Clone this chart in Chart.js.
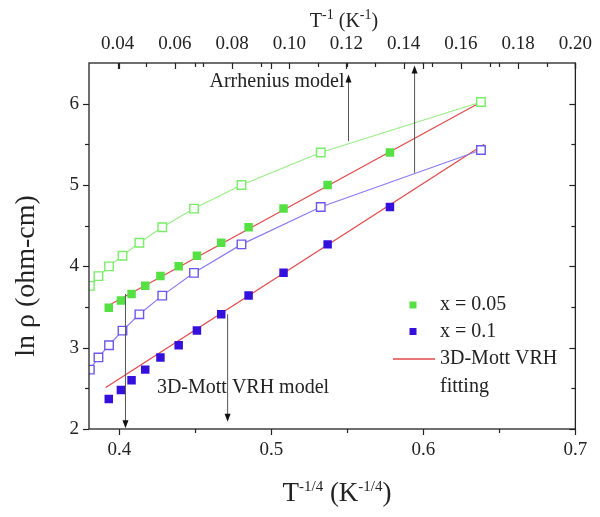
<!DOCTYPE html>
<html>
<head>
<meta charset="utf-8">
<script src="https://cdn.jsdelivr.net/npm/chart.js@4.4.0/dist/chart.umd.min.js"></script>
<style>
  html, body { margin: 0; padding: 0; background: #fff; }
</style>
</head>
<body>
<canvas id="chart" width="600" height="517"></canvas>
<script>
// ─── Data ───
// bottom axis: T^-1/4 (K^-1/4), filled squares
const tQuarter = [0.393, 0.401, 0.408, 0.417, 0.427, 0.439, 0.451, 0.467, 0.485, 0.508, 0.537, 0.578, 0.638];
const lnRho005 = [3.49, 3.58, 3.66, 3.76, 3.88, 4.00, 4.13, 4.29, 4.48, 4.71, 5.00, 5.40, 6.02];
const lnRho01  = [2.37, 2.48, 2.60, 2.73, 2.88, 3.03, 3.21, 3.41, 3.64, 3.92, 4.27, 4.73, 5.43];

// top axis: T^-1 (K^-1), open squares
const tInv     = [0.0303, 0.0333, 0.0370, 0.0417, 0.0476, 0.0556, 0.0667, 0.0833, 0.111, 0.167];
const open005  = [3.76, 3.88, 4.00, 4.13, 4.29, 4.48, 4.71, 5.00, 5.40, 6.02];
const open01   = [2.73, 2.88, 3.03, 3.21, 3.41, 3.64, 3.92, 4.27, 4.73, 5.43];

// 3D-Mott VRH fits (end points)
const fitX005 = [0.391, 0.638];
const fitY005 = [3.50, 6.02];
const fitX01  = [0.391, 0.640];
const fitY01  = [2.51, 5.50];

// ticks
const xTicks  = [0.4, 0.45, 0.5, 0.55, 0.6, 0.65, 0.7];
const x2Ticks = [0.04, 0.05, 0.06, 0.07, 0.08, 0.09, 0.10, 0.11, 0.12, 0.13, 0.14, 0.15, 0.16, 0.17, 0.18, 0.19, 0.20];
const yTicks  = [2, 2.5, 3, 3.5, 4, 4.5, 5, 5.5, 6];

// annotation arrows, in data units
const arrheniusArrows = [ { x: 0.1207, from: 5.54, to: 6.36 }, { x: 0.1438, from: 5.15, to: 6.47 } ];
const mottArrows      = [ { x: 0.404, from: 3.66, to: 2.01 }, { x: 0.4712, from: 3.41, to: 2.09 } ];

// ─── Styles ───
const SERIF = '"Liberation Serif", "DejaVu Serif", serif';
const INK = '#222';
const GREEN = '#55e044';
const GREEN_OPEN = '#77ee66';
const GREEN_LINE = '#99ee88';
const BLUE = '#3410dc';
const BLUE_OPEN = '#6a58ee';
const BLUE_LINE = '#8a7cf0';
const RED = '#e04848';

const pts = (xs, ys) => xs.map((x, i) => ({ x: x, y: ys[i] }));
const near = (v, step) => Math.abs(v / step - Math.round(v / step)) < 1e-6;

// ─── Drawing helpers ───
function line(ctx, x1, y1, x2, y2) {
    ctx.beginPath();
    ctx.moveTo(x1, y1);
    ctx.lineTo(x2, y2);
    ctx.stroke();
}

function arrow(ctx, x, y1, y2) {
    const dir = y2 < y1 ? -1 : 1;
    ctx.strokeStyle = '#555';
    ctx.fillStyle = '#111';
    ctx.lineWidth = 1;
    line(ctx, x, y1, x, y2 - dir * 6);
    ctx.beginPath();
    ctx.moveTo(x, y2);
    ctx.lineTo(x - 3, y2 - dir * 8);
    ctx.lineTo(x + 3, y2 - dir * 8);
    ctx.closePath();
    ctx.fill();
}

// text with superscripts: parts = [[text, isSup], ...]
function supText(ctx, parts, cx, baseY, size, supSize, rise) {
    const widths = parts.map(([t, sup]) => {
        ctx.font = `${sup ? supSize : size}px ${SERIF}`;
        return ctx.measureText(t).width;
    });
    let x = cx - widths.reduce((a, b) => a + b, 0) / 2;
    ctx.textAlign = 'left';
    ctx.textBaseline = 'alphabetic';
    parts.forEach(([t, sup], i) => {
        ctx.font = `${sup ? supSize : size}px ${SERIF}`;
        ctx.fillText(t, x, sup ? baseY - rise : baseY);
        x += widths[i];
    });
}

// ─── Frame, ticks, titles, legend, notes ───
const decor = {
    id: 'decor',
    afterDraw(chart) {
        const ctx = chart.ctx;
        const a = chart.chartArea;
        const sx = chart.scales.x, sx2 = chart.scales.x2, sy = chart.scales.y;
        ctx.save();

        // frame
        ctx.strokeStyle = INK;
        ctx.lineWidth = 1.3;
        ctx.strokeRect(a.left, a.top, a.right - a.left, a.bottom - a.top);

        // ticks
        ctx.lineWidth = 1.2;
        xTicks.forEach(v => {
            const px = Math.round(sx.getPixelForValue(v)) + 0.5;
            const len = near(v, 0.1) ? 6 : 4;
            line(ctx, px, a.bottom, px, a.bottom + len);
            line(ctx, px, a.top, px, a.top + len);
        });
        x2Ticks.forEach(v => {
            const px = Math.round(sx2.getPixelForValue(v)) + 0.5;
            const len = near(v, 0.02) ? 6 : 4;
            line(ctx, px, a.top, px, a.top + len);
        });
        yTicks.forEach(v => {
            const py = Math.round(sy.getPixelForValue(v)) + 0.5;
            const len = Number.isInteger(v) ? 6 : 4;
            line(ctx, a.left - len, py, a.left, py);
            line(ctx, a.right - len, py, a.right, py);
        });

        // axis titles
        ctx.fillStyle = INK;
        supText(ctx, [['T', false], ['-1/4', true], [' (K', false], ['-1/4', true], [')', false]], 337, 501, 27, 15, 10);
        supText(ctx, [['T', false], ['-1', true], [' (K', false], ['-1', true], [')', false]], 344, 27, 20, 14, 8);
        ctx.save();
        ctx.translate(34, 276);
        ctx.rotate(-Math.PI / 2);
        ctx.font = `28px ${SERIF}`;
        ctx.textAlign = 'center';
        ctx.textBaseline = 'alphabetic';
        ctx.fillText('ln \u03C1 (ohm-cm)', 0, 0);
        ctx.restore();

        // arrows + notes
        arrheniusArrows.forEach(r => arrow(ctx, sx2.getPixelForValue(r.x), sy.getPixelForValue(r.from), sy.getPixelForValue(r.to)));
        mottArrows.forEach(r => arrow(ctx, sx.getPixelForValue(r.x), sy.getPixelForValue(r.from), sy.getPixelForValue(r.to)));
        ctx.fillStyle = INK;
        ctx.font = `20px ${SERIF}`;
        ctx.textAlign = 'center';
        ctx.textBaseline = 'middle';
        ctx.fillText('Arrhenius model', 277, 82);
        ctx.fillText('3D-Mott VRH model', 243, 388);

        // legend
        ctx.fillStyle = GREEN;
        ctx.fillRect(409.5, 301.5, 7, 7);
        ctx.fillStyle = BLUE;
        ctx.fillRect(409.5, 328, 7, 7);
        ctx.strokeStyle = RED;
        ctx.lineWidth = 1.3;
        line(ctx, 393, 359, 435, 359);
        ctx.fillStyle = INK;
        ctx.textAlign = 'left';
        ctx.fillText('x = 0.05', 440, 305);
        ctx.fillText('x = 0.1', 440, 332);
        ctx.fillText('3D-Mott VRH', 440, 359);
        ctx.fillText('fitting', 440, 387);

        ctx.restore();
    }
};

const tickFont = { family: SERIF, size: 19 };

// dataset 0 is painted last, so the open squares sit on top
new Chart(document.getElementById('chart'), {
    type: 'scatter',
    data: {
        datasets: [
            { data: pts(tInv, open005), xAxisID: 'x2', yAxisID: 'y', showLine: true, clip: 0,
              borderColor: GREEN_LINE, borderWidth: 1.2, pointStyle: 'rect', pointRadius: 6,
              pointBackgroundColor: '#fff', pointBorderColor: GREEN_OPEN, pointBorderWidth: 1.4 },
            { data: pts(tInv, open01), xAxisID: 'x2', yAxisID: 'y', showLine: true, clip: 0,
              borderColor: BLUE_LINE, borderWidth: 1.2, pointStyle: 'rect', pointRadius: 6,
              pointBackgroundColor: '#fff', pointBorderColor: BLUE_OPEN, pointBorderWidth: 1.4 },
            { data: pts(tQuarter, lnRho005), xAxisID: 'x', yAxisID: 'y', showLine: false,
              pointStyle: 'rect', pointRadius: 6, backgroundColor: GREEN, borderColor: GREEN, borderWidth: 0 },
            { data: pts(tQuarter, lnRho01), xAxisID: 'x', yAxisID: 'y', showLine: false,
              pointStyle: 'rect', pointRadius: 6, backgroundColor: BLUE, borderColor: BLUE, borderWidth: 0 },
            { data: pts(fitX005, fitY005), xAxisID: 'x', yAxisID: 'y', showLine: true,
              pointRadius: 0, borderColor: RED, borderWidth: 1.2 },
            { data: pts(fitX01, fitY01), xAxisID: 'x', yAxisID: 'y', showLine: true,
              pointRadius: 0, borderColor: RED, borderWidth: 1.2 },
        ],
    },
    options: {
        responsive: false,
        animation: false,
        layout: { padding: { left: 0, right: 17, top: 0, bottom: 0 } },
        plugins: { legend: { display: false }, tooltip: { enabled: false } },
        scales: {
            x: {
                type: 'linear', position: 'bottom', min: 0.38, max: 0.7,
                afterBuildTicks: s => { s.ticks = xTicks.map(v => ({ value: v })); },
                afterFit: s => { s.height = 88; },
                grid: { display: false, drawTicks: false },
                border: { display: false },
                ticks: { autoSkip: false, maxRotation: 0, padding: 10, color: INK, font: tickFont,
                         callback: v => near(v, 0.1) ? v.toFixed(1) : '' },
            },
            x2: {
                type: 'linear', position: 'top', min: 0.03, max: 0.20,
                afterBuildTicks: s => { s.ticks = x2Ticks.filter(v => near(v, 0.02)).map(v => ({ value: v })); },
                afterFit: s => { s.height = 63; },
                grid: { display: false, drawTicks: false },
                border: { display: false },
                ticks: { autoSkip: false, maxRotation: 0, padding: 8, color: INK, font: tickFont,
                         callback: v => v.toFixed(2) },
            },
            y: {
                type: 'linear', position: 'left', min: 2, max: 6.5,
                afterBuildTicks: s => { s.ticks = yTicks.map(v => ({ value: v })); },
                afterFit: s => { s.width = 89; },
                grid: { display: false, drawTicks: false },
                border: { display: false },
                ticks: { autoSkip: false, padding: 10, color: INK, font: tickFont,
                         callback: v => Number.isInteger(v) ? String(v) : '' },
            },
        },
    },
    plugins: [decor],
});
</script>
</body>
</html>
